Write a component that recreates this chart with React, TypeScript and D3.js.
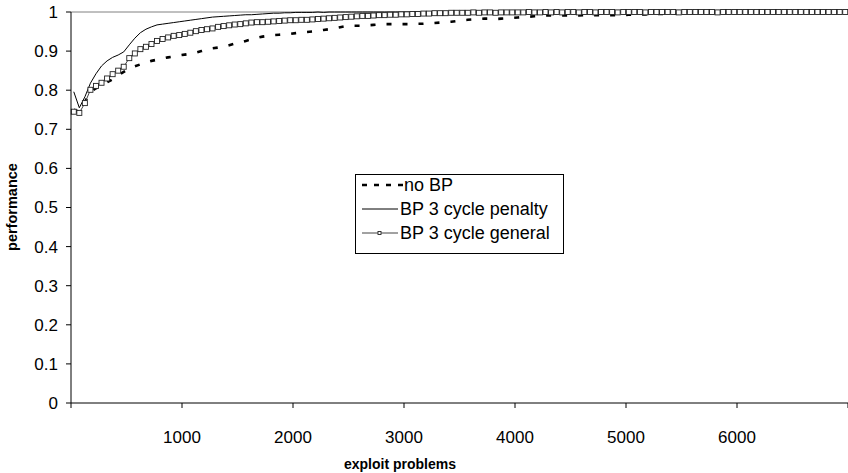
import React from "react";
import * as d3 from "d3";

const yTicks = [0, 0.1, 0.2, 0.3, 0.4, 0.5, 0.6, 0.7, 0.8, 0.9, 1];
const yTickLabels = ["0", "0.1", "0.2", "0.3", "0.4", "0.5", "0.6", "0.7", "0.8", "0.9", "1"];
const xTicks = [0, 1000, 2000, 3000, 4000, 5000, 6000, 7000];
const xTickLabels = ["", "1000", "2000", "3000", "4000", "5000", "6000", ""];
const seriesNames = ["no BP", "BP 3 cycle penalty", "BP 3 cycle general"];

const noBP = [
  0.750, 0.745, 0.770, 0.795, 0.805, 0.813, 0.820, 0.828, 0.838, 0.847,
  0.855, 0.861, 0.866, 0.871, 0.875, 0.878, 0.881, 0.884, 0.886, 0.889,
  0.891, 0.893, 0.896, 0.900, 0.904, 0.907, 0.909, 0.911, 0.915, 0.919,
  0.922, 0.926, 0.930, 0.934, 0.937, 0.939, 0.941, 0.942, 0.943, 0.944,
  0.946, 0.948, 0.949, 0.950, 0.952, 0.954, 0.956, 0.958, 0.961, 0.964,
  0.965, 0.965, 0.965, 0.966, 0.967, 0.968, 0.969, 0.969, 0.969, 0.969,
  0.969, 0.969, 0.970, 0.970, 0.971, 0.972, 0.973, 0.974, 0.975, 0.977,
  0.979, 0.980, 0.981, 0.982, 0.983, 0.983, 0.982, 0.983, 0.984, 0.985,
  0.986, 0.987, 0.988, 0.989, 0.990, 0.991, 0.991, 0.991, 0.991, 0.991,
  0.991, 0.991, 0.992, 0.992, 0.992, 0.992, 0.992, 0.992, 0.992, 0.992,
  0.993, 0.993, 0.994, 0.994, 0.995, 0.995, 0.995, 0.995, 0.996, 0.996,
  0.997, 0.997, 0.997, 0.997, 0.998, 0.997, 0.998, 0.998, 0.998, 0.998,
  0.998, 0.998, 0.999, 0.998, 0.999, 0.999, 0.999, 0.999, 0.999, 0.999,
  0.999, 0.999, 0.999, 0.999, 1.000, 0.999, 1.000, 0.999, 1.000, 1.000,
];

const penalty = [
  0.796, 0.755, 0.783, 0.818, 0.842, 0.862, 0.875, 0.884, 0.890, 0.898,
  0.916, 0.933, 0.947, 0.956, 0.962, 0.967, 0.969, 0.971, 0.973, 0.975,
  0.977, 0.979, 0.981, 0.983, 0.985, 0.987, 0.988, 0.989, 0.990, 0.991,
  0.992, 0.993, 0.993, 0.994, 0.995, 0.996, 0.997, 0.997, 0.998, 0.998,
  0.999, 0.999, 0.999, 0.999, 1.000, 0.999, 1.000, 1.000, 1.000, 1.000,
  1.000, 1.000, 1.000, 1.000, 1.000, 1.000, 1.000, 1.000, 1.000, 1.000,
  1.000, 1.000, 1.000, 1.000, 1.000, 1.000, 1.000, 1.000, 1.000, 1.000,
  1.000, 1.000, 1.000, 1.000, 1.000, 1.000, 1.000, 1.000, 1.000, 1.000,
  1.000, 1.000, 1.000, 1.000, 1.000, 1.000, 1.000, 1.000, 1.000, 1.000,
  1.000, 1.000, 1.000, 1.000, 1.000, 1.000, 1.000, 1.000, 1.000, 1.000,
  1.000, 1.000, 1.000, 1.000, 1.000, 1.000, 1.000, 1.000, 1.000, 1.000,
  1.000, 1.000, 1.000, 1.000, 1.000, 1.000, 1.000, 1.000, 1.000, 1.000,
  1.000, 1.000, 1.000, 1.000, 1.000, 1.000, 1.000, 1.000, 1.000, 1.000,
  1.000, 1.000, 1.000, 1.000, 1.000, 1.000, 1.000, 1.000, 1.000, 1.000,
];

const general = [
  0.745, 0.742, 0.767, 0.801, 0.811, 0.819, 0.830, 0.841, 0.850, 0.860,
  0.882, 0.894, 0.905, 0.911, 0.918, 0.926, 0.931, 0.935, 0.939, 0.941,
  0.944, 0.947, 0.951, 0.954, 0.956, 0.958, 0.962, 0.964, 0.966, 0.968,
  0.969, 0.971, 0.973, 0.974, 0.974, 0.975, 0.976, 0.977, 0.978, 0.979,
  0.979, 0.980, 0.980, 0.981, 0.982, 0.983, 0.984, 0.985, 0.986, 0.987,
  0.988, 0.989, 0.990, 0.990, 0.991, 0.992, 0.992, 0.993, 0.993, 0.994,
  0.994, 0.995, 0.995, 0.996, 0.996, 0.997, 0.997, 0.997, 0.998, 0.998,
  0.998, 0.998, 0.999, 0.998, 0.999, 0.999, 0.998, 0.999, 0.999, 0.999,
  0.999, 0.999, 1.000, 0.999, 0.999, 1.000, 0.999, 1.000, 0.999, 1.000,
  1.000, 0.999, 1.000, 1.000, 0.999, 1.000, 1.000, 1.000, 0.999, 1.000,
  1.000, 1.000, 1.000, 0.999, 1.000, 1.000, 1.000, 1.000, 1.000, 0.999,
  1.000, 1.000, 1.000, 1.000, 1.000, 1.000, 0.999, 1.000, 1.000, 1.000,
  1.000, 1.000, 1.000, 1.000, 1.000, 1.000, 1.000, 1.000, 1.000, 1.000,
  1.000, 1.000, 1.000, 1.000, 1.000, 1.000, 1.000, 1.000, 1.000, 1.000,
];

// category spacing of exploit problems (each point is one block of 50)
const blockSize = 50;

const W = 848;
const H = 473;
const FONT = "'Liberation Sans', Arial, Helvetica, sans-serif";

export default function App() {
  const x = d3.scaleLinear().domain([0, 7000]).range([71, 848]);
  const y = d3.scaleLinear().domain([0, 1]).range([403, 12]);
  const px = (i: number) => x(blockSize * i + blockSize / 2);
  const line = d3
    .line<number>()
    .x((_, i) => px(i))
    .y((d) => y(d));

  const x0 = x(0);
  const y0 = y(0);

  return (
    <svg
      width={W}
      height={H}
      style={{ position: "absolute", left: 0, top: 0, background: "#fff" }}
      fontFamily={FONT}
    >
      <rect x={0} y={0} width={W} height={H} fill="#fff" />
      {/* plot area top border */}
      <line x1={x0} x2={x(7000)} y1={y(1)} y2={y(1)} stroke="#808080" strokeWidth={1} />

      {/* series */}
      <path d={line(noBP) || ""} fill="none" stroke="#000" strokeWidth={2.6} strokeDasharray="5,11" />
      <path d={line(penalty) || ""} fill="none" stroke="#000" strokeWidth={1} />
      <path d={line(general) || ""} fill="none" stroke="#444" strokeWidth={1} />
      {general.map((v, i) => (
        <rect
          key={i}
          x={px(i) - 2.5}
          y={y(v) - 2.5}
          width={5}
          height={5}
          fill="#fff"
          stroke="#222"
          strokeWidth={0.9}
        />
      ))}

      {/* axes */}
      <line x1={x0} x2={x0} y1={y(1)} y2={y0} stroke="#000" strokeWidth={1} />
      <line x1={x0} x2={x(7000)} y1={y0} y2={y0} stroke="#000" strokeWidth={1} />
      {yTicks.map((t, i) => (
        <g key={"y" + i}>
          <line x1={x0 - 5} x2={x0} y1={y(t)} y2={y(t)} stroke="#000" />
          <text x={58} y={y(t)} dy="0.35em" textAnchor="end" fontSize={17} fill="#000">
            {yTickLabels[i]}
          </text>
        </g>
      ))}
      {xTicks.map((t, i) => (
        <g key={"x" + i}>
          <line x1={x(t)} x2={x(t)} y1={y0} y2={y0 + 5} stroke="#000" />
          <text x={x(t)} y={443} textAnchor="middle" fontSize={17} fill="#000">
            {xTickLabels[i]}
          </text>
        </g>
      ))}

      {/* axis titles */}
      <text x={400} y={469} textAnchor="middle" fontSize={14} fontWeight="bold" fill="#000">
        exploit problems
      </text>
      <text
        transform={`translate(17,207) rotate(-90)`}
        textAnchor="middle"
        fontSize={14.5}
        fontWeight="bold"
        fill="#000"
      >
        performance
      </text>

      {/* legend */}
      <rect x={355.5} y={174.5} width={208} height={79} fill="#fff" stroke="#000" strokeWidth={1} />
      <line x1={362} x2={403} y1={185} y2={185} stroke="#000" strokeWidth={2.6} strokeDasharray="5,7" />
      <text x={404} y={185} dy="0.35em" fontSize={18} fill="#000">{seriesNames[0]}</text>
      <line x1={362} x2={398} y1={209} y2={209} stroke="#000" strokeWidth={1} />
      <text x={400} y={209} dy="0.35em" fontSize={18} fill="#000">{seriesNames[1]}</text>
      <line x1={362} x2={398} y1={233} y2={233} stroke="#444" strokeWidth={1} />
      <rect x={378} y={231.5} width={3} height={3} fill="#fff" stroke="#222" strokeWidth={0.9} />
      <text x={400} y={233} dy="0.35em" fontSize={18} fill="#000">{seriesNames[2]}</text>
    </svg>
  );
}
